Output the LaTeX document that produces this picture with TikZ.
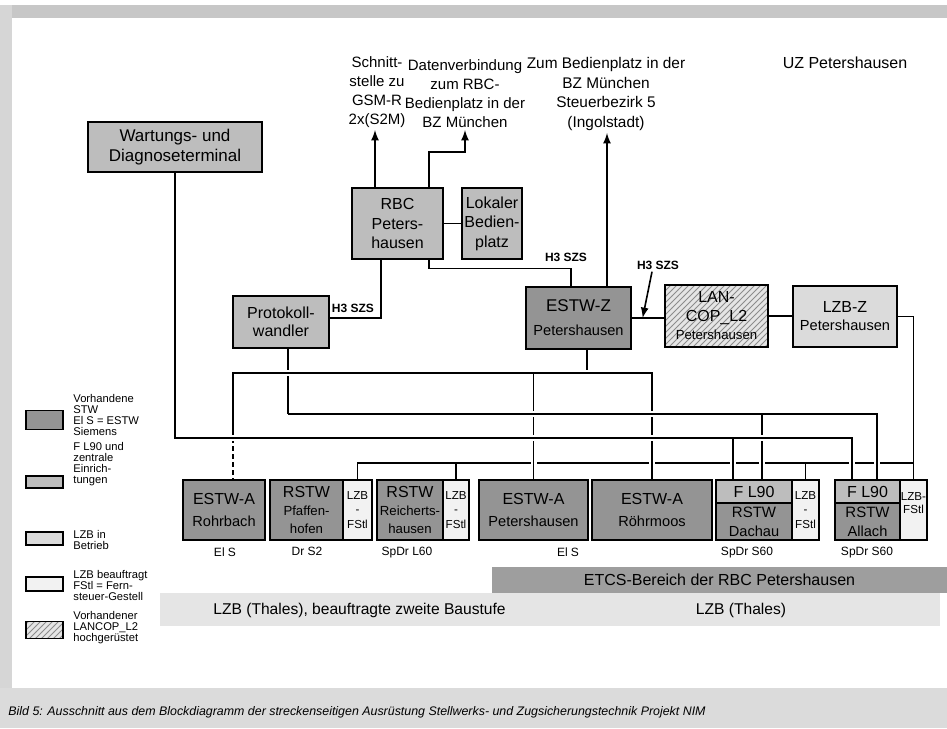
\documentclass[tikz,border=0pt]{standalone}
\usepackage{fontspec}
\setmainfont{Liberation Sans}
\usetikzlibrary{patterns}
\newcommand{\lsub}{\fontsize{6.6}{8}\selectfont}
\newcommand{\esub}{\fontsize{7.3}{8}\selectfont}

\begin{document}
\begin{tikzpicture}[x=0.5pt, y=-0.5pt, >=latex,
    box/.style={draw, line width=0.6pt, inner sep=0pt, align=center, font=\fontsize{8}{9.75}\selectfont},
    stw/.style={box, fill=black!42},
    zen/.style={box, fill=black!26},
    lzb/.style={box, fill=black!14},
    lzbn/.style={box, fill=black!5, font=\fontsize{5.8}{7.25}\selectfont},
    lanc/.style={box, preaction={fill=black!10}, pattern=north east lines, pattern color=black!45},
    lbl/.style={inner sep=1pt, align=center, font=\fontsize{7.5}{9.5}\selectfont},
    tiny/.style={inner sep=1pt, font=\fontsize{6}{7}\selectfont},
    leg/.style={inner sep=1pt, align=left, anchor=west, font=\fontsize{5.6}{5.5}\selectfont},
    conn/.style={line width=0.8pt},
    over/.style={preaction={draw=white, line width=3pt, shorten <=1.2pt, shorten >=1.2pt}}]

  \useasboundingbox (0,0) rectangle (947,728);
  \fill[white] (0,0) rectangle (947,728);
  \fill[black!22] (0,5) rectangle (947,18);
  \fill[black!16] (0,5) rectangle (12,728);
  \fill[black!14] (0,688) rectangle (947,728);

  % top labels
  \node[lbl, anchor=south] (gsm) at (377,130) {Schnitt-\\stelle zu\\GSM-R\\2x(S2M)};
  \node[lbl, anchor=south] (dv) at (465,130) {Datenverbindung\\zum RBC-\\Bedienplatz in der\\BZ M\"unchen};
  \node[lbl, anchor=south, font=\fontsize{7.7}{9.85}\selectfont] (bz) at (606,133) {Zum Bedienplatz in der\\BZ M\"unchen\\Steuerbezirk 5\\(Ingolstadt)};
  \node[lbl, font=\fontsize{8}{9.5}\selectfont] (uz) at (845,63) {UZ Petershausen};

  % central units
  \node[zen, minimum width=87pt, minimum height=25pt, font=\fontsize{8.5}{10}\selectfont] (wt) at (175,147) {Wartungs- und\\Diagnoseterminal};
  \node[zen, minimum width=45.5pt, minimum height=35.5pt] (rbc) at (397.5,223.5) {RBC\\Peters-\\hausen};
  \node[zen, minimum width=30pt, minimum height=35.5pt] (lb) at (492,223.5) {Lokaler\\Bedien-\\platz};
  \node[zen, minimum width=48pt, minimum height=26pt, font=\fontsize{8}{9}\selectfont] (pw) at (281,322) {Protokoll-\\wandler};
  \node[stw, minimum width=52.5pt, minimum height=31pt, font=\fontsize{8.5}{12}\selectfont] (ez) at (578.5,318) {ESTW-Z\\\esub Petershausen};
  \node[lanc, minimum width=51.5pt, minimum height=31pt, font=\fontsize{8}{9.25}\selectfont] (lan) at (716.5,316) {LAN-\\COP\_L2\\\lsub Petershausen};
  \node[lzb, minimum width=52pt, minimum height=30.5pt, font=\fontsize{8}{9}\selectfont] (lzbz) at (845,316.5) {LZB-Z\\\esub Petershausen};

  \node[tiny, font=\fontsize{6}{7}\bfseries] (h3a) at (353,308) {H3 SZS};
  \node[tiny, font=\fontsize{6}{7}\bfseries] (h3b) at (566,257) {H3 SZS};
  \node[tiny, font=\fontsize{6}{7}\bfseries] (h3c) at (658,265) {H3 SZS};

  % interlockings
  \node[stw, minimum width=41pt, minimum height=30pt, font=\fontsize{8}{11}\selectfont] (ra) at (224,510) {ESTW-A\\\esub Rohrbach};
  \node[stw, minimum width=36.5pt, minimum height=30pt, font=\fontsize{8}{9}\selectfont] (rp) at (306.5,510) {RSTW\\\lsub Pfaffen-\\\lsub hofen};
  \node[lzbn, minimum width=14.5pt, minimum height=30pt] (fp) at (357.5,510) {LZB\\-\\FStl};
  \node[stw, minimum width=33pt, minimum height=30pt, font=\fontsize{8}{9}\selectfont] (rr) at (410,510) {RSTW\\\lsub Reicherts-\\\lsub hausen};
  \node[lzbn, minimum width=13pt, minimum height=30pt] (fr) at (456,510) {LZB\\-\\FStl};
  \node[stw, minimum width=54.5pt, minimum height=30pt, font=\fontsize{8}{11}\selectfont] (ep) at (533.5,510) {ESTW-A\\\esub Petershausen};
  \node[stw, minimum width=60pt, minimum height=30pt, font=\fontsize{8}{11}\selectfont] (er) at (652,510) {ESTW-A\\\esub R\"ohrmoos};
  \node[zen, minimum width=38pt, minimum height=11.5pt] (fd) at (754,491.5) {F L90};
  \node[stw, minimum width=38pt, minimum height=18.5pt, font=\fontsize{7.5}{9.5}\selectfont] (rd) at (754,521.5) {RSTW\\\esub Dachau};
  \node[lzbn, minimum width=13.5pt, minimum height=30pt] (sd) at (805.5,510) {LZB\\-\\FStl};
  \node[zen, minimum width=32.5pt, minimum height=11.5pt] (fa) at (867.5,491.5) {F L90};
  \node[stw, minimum width=32.5pt, minimum height=18.5pt, font=\fontsize{7.5}{9.5}\selectfont] (ral) at (867.5,521.5) {RSTW\\\esub Allach};
  \node[lzbn, minimum width=13.5pt, minimum height=30pt, font=\fontsize{5.8}{6.5}\selectfont] (sa) at (913.5,510) {LZB-\\FStl\\\mbox{}};

  \node[tiny] (ls1) at (225,552) {El S};
  \node[tiny] (ls2) at (307,551) {Dr S2};
  \node[tiny] (ls3) at (407,553) {SpDr L60};
  \node[tiny] (ls4) at (568,552) {El S};
  \node[tiny] (ls5) at (747,553) {SpDr S60};
  \node[tiny] (ls6) at (867,553) {SpDr S60};

  % areas
  \node[fill=black!38, minimum width=227.5pt, minimum height=13pt, inner sep=0pt, font=\fontsize{8}{9}\selectfont] (etcs) at (719.5,580) {ETCS-Bereich der RBC Petershausen};
  \fill[black!10] (160,593) rectangle (940,626);
  \node[lbl, anchor=west, font=\fontsize{7.8}{9}\selectfont] (lt1) at (211,610) {LZB (Thales), beauftragte zweite Baustufe};
  \node[lbl, font=\fontsize{7.8}{9}\selectfont] (lt2) at (741,610) {LZB (Thales)};

  % legend
  \node[stw, minimum width=18.5pt, minimum height=9.5pt] (k1) at (44.5,420) {};
  \node[zen, minimum width=18.5pt, minimum height=6pt] (k2) at (44.5,482) {};
  \node[lzb, minimum width=18.5pt, minimum height=6.5pt] (k3) at (44.5,538.5) {};
  \node[lzbn, minimum width=18.5pt, minimum height=7pt] (k4) at (44.5,584) {};
  \node[lanc, minimum width=18.5pt, minimum height=8.5pt] (k5) at (44.5,630) {};
  \node[leg] (t1) at (71,415) {Vorhandene\\STW\\El S = ESTW\\Siemens};
  \node[leg] (t2) at (71,464) {F L90 und\\zentrale\\Einrich-\\tungen};
  \node[leg] (t3) at (71,540) {LZB in\\Betrieb};
  \node[leg] (t4) at (71,585.5) {LZB beauftragt\\FStl = Fern-\\steuer-Gestell};
  \node[leg] (t5) at (71,628) {Vorhandener\\LANCOP\_L2\\hochger\"ustet};

  \node[anchor=west, inner sep=0pt, font=\fontsize{6.2}{7}\itshape] (cap) at (8,712) {Bild 5: Ausschnitt aus dem Blockdiagramm der streckenseitigen Ausr\"ustung Stellwerks- und Zugsicherungstechnik Projekt NIM};

  % bus levels and drop points
  \coordinate (ya) at (0,373);
  \coordinate (yb) at (0,414);
  \coordinate (yc) at (0,438);
  \coordinate (yd) at (0,463);
  \coordinate (kdv) at (0,152);
  \coordinate (rgsm) at ([xshift=-11.25pt]rbc.north);
  \coordinate (rdv) at ([xshift=15.75pt]rbc.north);
  \coordinate (rez) at ([xshift=15.75pt]rbc.south);
  \coordinate (rpw) at ([xshift=-8.25pt]rbc.south);
  \coordinate (ezr) at ([xshift=-3.75pt]ez.north);
  \coordinate (ezb) at ([xshift=14.25pt]ez.north);
  \coordinate (eza) at ([xshift=4.25pt]ez.south);
  \coordinate (h3t) at ([xshift=5.5pt]ez.east);
  \coordinate (pwb) at ([xshift=3.5pt]pw.south);
  \coordinate (raa) at ([xshift=4.5pt]ra.north);
  \coordinate (fdc) at ([xshift=-10.5pt]fd.north);
  \coordinate (fdb) at ([xshift=4pt]fd.north);
  \coordinate (fac) at ([xshift=-7.75pt]fa.north);
  \coordinate (fab) at ([xshift=4.75pt]fa.north);

  % connections
  \draw[conn, ->] (rgsm) -- (rgsm |- gsm.south);
  \draw[conn, ->] (rdv) |- (dv.south |- kdv) -- (dv.south);
  \draw[conn, ->] (ezb) -- (ezb |- bz.south);
  \draw[conn] (rbc.east) -- (rbc.east -| lb.west);
  \draw[conn] (rez) -- ++(0,9) -| (ezr);
  \draw[conn] (rpw) |- ([yshift=2pt]pw.east);
  \draw[conn] (ez.east) -- (ez.east -| lan.west);
  \draw[conn] (lan.east) -- (lan.east -| lzbz.west);
  \draw[conn, ->] ([xshift=-3pt]h3c.south) -- (h3t);

  % LZB line
  \draw[conn] (lzbz.east) -| (sa.north);
  \draw[conn] (fp.north) |- (sa.north |- yd);
  \draw[conn] (fr.north) -- (fr.north |- yd);
  \draw[conn] (sd.north) -- (sd.north |- yd);

  \draw[conn] (pwb) -- (pwb |- yb);
  \draw[conn, dash pattern=on 2.5pt off 1.5pt] (raa |- yc) -- (raa);

  % ESTW-Z line
  \draw[conn, over] (eza) -- (eza |- ya);
  \draw[conn, over] (raa |- yc) |- (er.north |- ya) -- (er.north);
  \draw[conn, over] (ep.north |- ya) -- (ep.north);

  % Protokollwandler line
  \draw[conn, over] (pwb |- yb) -| (fab);
  \draw[conn, over] (fdb |- yb) -- (fdb);

  % Diagnose line
  \draw[conn, over] (wt.south) |- (fac |- yc) -- (fac);
  \draw[conn, over] (fdc |- yc) -- (fdc);

\end{tikzpicture}
\end{document}
